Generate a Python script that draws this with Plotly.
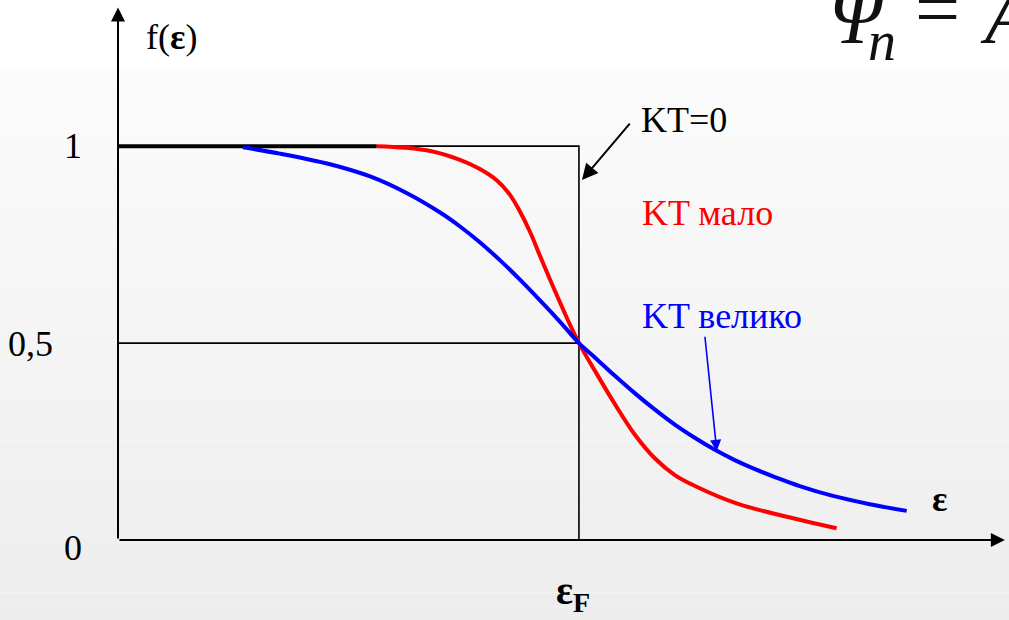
import plotly.graph_objects as go

W, H = 1009, 620

# Energy axis in units of the Fermi energy, occupation on the vertical axis
X_RANGE = [-0.256, 1.933]
Y_RANGE = [-0.203, 1.371]

# Occupation at T = 0: a step at eps_F
step_x = [0.0, 1.0, 1.0]
step_y = [1.0, 1.0, 0.0]
half_x = [0.0, 1.0]
half_y = [0.5, 0.5]
flat_x = [0.0, 0.561]
flat_y = [1.0, 1.0]

# Small kT
red_x = [0.561, 0.622, 0.680, 0.742, 0.785, 0.821, 0.850, 0.872, 0.894, 0.915,
         0.937, 0.959, 0.980, 1.000, 1.035, 1.078, 1.121, 1.165, 1.208, 1.254,
         1.342, 1.451, 1.559]
red_y = [1.000, 0.996, 0.987, 0.965, 0.942, 0.914, 0.877, 0.834, 0.782, 0.723,
         0.662, 0.603, 0.548, 0.500, 0.429, 0.345, 0.268, 0.207, 0.165, 0.136,
         0.093, 0.059, 0.030]

# Large kT
blue_x = [0.271, 0.351, 0.460, 0.547, 0.626, 0.698, 0.742, 0.785, 0.829, 0.872,
          0.915, 0.959, 1.000, 1.035, 1.078, 1.121, 1.165, 1.208, 1.252, 1.295,
          1.338, 1.382, 1.425, 1.479, 1.551, 1.631, 1.711]
blue_y = [0.997, 0.981, 0.954, 0.923, 0.881, 0.832, 0.796, 0.756, 0.710, 0.661,
          0.609, 0.554, 0.500, 0.463, 0.417, 0.373, 0.331, 0.293, 0.259, 0.229,
          0.203, 0.180, 0.160, 0.137, 0.112, 0.091, 0.074]

tick_vals = [1.0, 0.5, 0.0]
tick_text = ["1", "0,5", "0"]
tick_x = [-0.098, -0.189, -0.098]
tick_dy = [0.0, -0.003, -0.02]

SERIF = "Liberation Serif, Times New Roman, serif"
BLACK, RED, BLUE = "#000000", "#ff0000", "#0000ff"

fig = go.Figure()

fig.add_trace(go.Scatter(x=step_x, y=step_y, mode="lines",
                         line=dict(color=BLACK, width=1.6)))
fig.add_trace(go.Scatter(x=half_x, y=half_y, mode="lines",
                         line=dict(color=BLACK, width=1.6)))
fig.add_trace(go.Scatter(x=flat_x, y=flat_y, mode="lines",
                         line=dict(color=BLACK, width=4)))
fig.add_trace(go.Scatter(x=red_x, y=red_y, mode="lines",
                         line=dict(color=RED, width=4, shape="spline", smoothing=1.0)))
fig.add_trace(go.Scatter(x=blue_x, y=blue_y, mode="lines",
                         line=dict(color=BLUE, width=4, shape="spline", smoothing=1.0)))

# Soft slide background: white band at the top, then a light grey fade
shapes = []
top_px, n = 68, 40
for i in range(n):
    y0 = top_px + (H - top_px) * i / n
    y1 = top_px + (H - top_px) * (i + 1) / n
    g = round(251 - (251 - 237) * i / (n - 1))
    shapes.append(dict(type="rect", xref="paper", yref="paper", layer="below",
                       x0=0, x1=1, y0=1 - y1 / H, y1=1 - y0 / H,
                       fillcolor=f"rgb({g},{g},{g})", line=dict(width=0)))

annotations = []


def arrow(x0, y0, x1, y1, color, width, size=1.4):
    annotations.append(dict(x=x1, y=y1, ax=x0, ay=y0, xref="x", yref="y",
                            axref="x", ayref="y", text="", showarrow=True,
                            arrowhead=2, arrowsize=size, arrowwidth=width,
                            arrowcolor=color, standoff=0, startstandoff=0))


def label(x, y, text, color=BLACK, size=36, xanchor="center"):
    annotations.append(dict(x=x, y=y, xref="x", yref="y", text=text,
                            showarrow=False, xanchor=xanchor, yanchor="middle",
                            font=dict(family=SERIF, size=size, color=color)))


def corner_text(px, py, text, size, xanchor="center"):
    annotations.append(dict(x=px / W, y=1 - py / H, xref="paper", yref="paper",
                            text=text, showarrow=False, xanchor=xanchor,
                            yanchor="middle",
                            font=dict(family=SERIF, size=size, color="#111111")))


# Coordinate axes with arrow tips
arrow(0, 0, 1.924, 0, BLACK, 2)
arrow(0, 0, 0, 1.352, BLACK, 2)

for v, t, x, dy in zip(tick_vals, tick_text, tick_x, tick_dy):
    label(x, v + dy, t)

label(0.117, 1.277, "f(<b>ε</b>)")
label(1.783, 0.105, "<b>ε</b>")
label(0.987, -0.135, "<b>ε<sub>F</sub></b>", size=40)

label(1.228, 1.066, "KT=0")
arrow(1.113, 1.061, 1.0065, 0.914, BLACK, 2, size=1.6)
label(1.132, 0.830, "KT мало", color=RED, xanchor="left")
label(1.132, 0.569, "KT велико", color=BLUE, xanchor="left")
arrow(1.273, 0.520, 1.299, 0.226, BLUE, 1.6)

# Formula fragment at the top right edge
corner_text(858, 16, "<i>Ψ</i>", 80)
corner_text(866, 41, "<i>n</i>", 56, xanchor="left")
corner_text(937, 9, "=", 80)
corner_text(978, 16, "<i>A</i>", 80, xanchor="left")

fig.update_layout(
    width=W, height=H, margin=dict(l=0, r=0, t=0, b=0),
    paper_bgcolor="#ffffff", plot_bgcolor="rgba(0,0,0,0)",
    showlegend=False, shapes=shapes, annotations=annotations,
    xaxis=dict(range=X_RANGE, visible=False, fixedrange=True),
    yaxis=dict(range=Y_RANGE, visible=False, fixedrange=True),
)

fig.write_html("out.html")
